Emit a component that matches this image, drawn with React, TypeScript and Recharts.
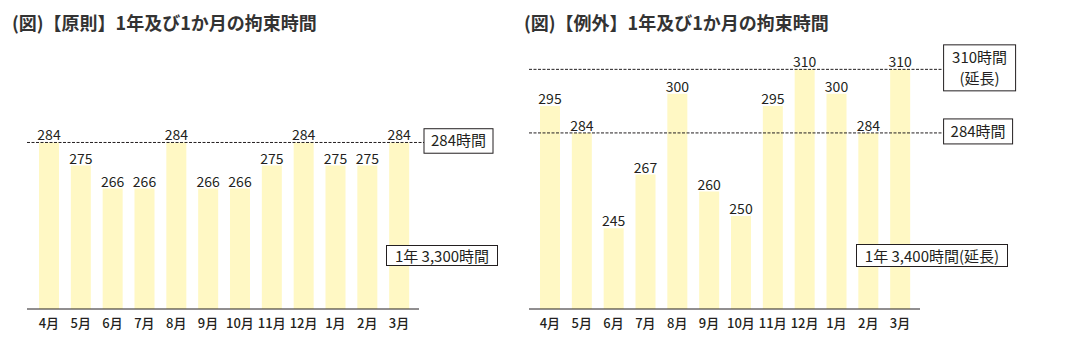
import { BarChart, Bar, XAxis, YAxis, ReferenceLine, LabelList } from "recharts";

const FONT = '"Noto Sans CJK JP", "Noto Sans", sans-serif';
const INK = "#231f20";
const BAR_FILL = "#fff8c4";

const months = ["4月", "5月", "6月", "7月", "8月", "9月", "10月", "11月", "12月", "1月", "2月", "3月"];
const principleHours = [284, 275, 266, 266, 284, 266, 266, 275, 284, 275, 275, 284];
const exceptionHours = [295, 284, 245, 267, 300, 260, 250, 295, 310, 300, 284, 310];

const principleMonthlyLimit = 284;
const exceptionMonthlyLimit = 284;
const exceptionExtendedLimit = 310;

const principleTitle = "(図)【原則】1年及び1か月の拘束時間";
const exceptionTitle = "(図)【例外】1年及び1か月の拘束時間";
const principleYearNote = "1年 3,300時間";
const exceptionYearNote = "1年 3,400時間(延長)";

const principleData = months.map((m, i) => ({ month: m, hours: principleHours[i] }));
const exceptionData = months.map((m, i) => ({ month: m, hours: exceptionHours[i] }));

const MonthTick = (props: any) => {
  const { x, y, payload } = props;
  return (
    <text x={x} y={y + 19} textAnchor="middle" fontSize={13} fontWeight={500} fill={INK} fontFamily={FONT}>
      {payload.value}
    </text>
  );
};

const ValueLabel = (props: any) => {
  const { x, y, width, value } = props;
  return (
    <text x={x + width / 2} y={y - 2} textAnchor="middle" fontSize={14} fill={INK} fontFamily={FONT}>
      {value}
    </text>
  );
};

// dashed limit line that runs on past the plot into a boxed caption
const limitShape = (gap: number, boxW: number, boxH: number, lines: string[]) => (props: any) => {
  const { x1, y1, x2 } = props;
  const bx = x2 + gap;
  const top = y1 - boxH / 2 - 1.5;
  return (
    <g>
      <line x1={x1} y1={y1} x2={bx} y2={y1} stroke={INK} strokeWidth={1} strokeDasharray="3 1.5" />
      <rect x={bx} y={top} width={boxW} height={boxH} fill="#fff" stroke={INK} strokeWidth={1} />
      {lines.map((t, i) => (
        <text
          key={t}
          x={bx + boxW / 2}
          y={top + boxH / 2 + 5.5 + (i - (lines.length - 1) / 2) * 21}
          textAnchor="middle"
          fontSize={15}
          fill={INK}
          fontFamily={FONT}
        >
          {t}
        </text>
      ))}
    </g>
  );
};

const titleStyle = {
  position: "absolute" as const,
  top: 12,
  fontFamily: FONT,
  fontWeight: 700,
  fontSize: 18,
  lineHeight: "20px",
  color: "#333",
  whiteSpace: "nowrap" as const,
};

const noteStyle = {
  position: "absolute" as const,
  boxSizing: "border-box" as const,
  border: `1px solid ${INK}`,
  background: "#fff",
  fontFamily: FONT,
  fontSize: 15,
  color: INK,
  textAlign: "center" as const,
  whiteSpace: "nowrap" as const,
};

export default function App() {
  return (
    <div style={{ position: "absolute", left: 0, top: 0, width: 1068, height: 355, background: "#fff", overflow: "hidden" }}>
      <div style={{ ...titleStyle, left: 12 }}>{principleTitle}</div>
      <div style={{ ...titleStyle, left: 524 }}>{exceptionTitle}</div>

      <div style={{ position: "absolute", left: 0, top: 0 }}>
        <BarChart width={530} height={355} data={principleData} margin={{ top: 40, right: 111, left: 27, bottom: 0 }}>
          <XAxis
            dataKey="month"
            height={46}
            padding={{ left: 6, right: 4 }}
            axisLine={{ stroke: INK, strokeWidth: 1 }}
            tickLine={false}
            tickSize={0}
            tickMargin={0}
            interval={0}
            tick={<MonthTick />}
          />
          <YAxis hide domain={[219, 324]} />
          <Bar dataKey="hours" fill={BAR_FILL} barSize={20} isAnimationActive={false}>
            <LabelList dataKey="hours" content={<ValueLabel />} />
          </Bar>
          <ReferenceLine
            y={principleMonthlyLimit}
            shape={limitShape(5, 69, 24.5, [`${principleMonthlyLimit}時間`])}
          />
        </BarChart>
      </div>

      <div style={{ position: "absolute", left: 520, top: 0 }}>
        <BarChart width={548} height={355} data={exceptionData} margin={{ top: 40, right: 148, left: 9, bottom: 0 }}>
          <XAxis
            dataKey="month"
            height={46}
            padding={{ left: 5, right: 4 }}
            axisLine={{ stroke: INK, strokeWidth: 1 }}
            tickLine={false}
            tickSize={0}
            tickMargin={0}
            interval={0}
            tick={<MonthTick />}
          />
          <YAxis hide domain={[212, 322]} />
          <Bar dataKey="hours" fill={BAR_FILL} barSize={20} isAnimationActive={false}>
            <LabelList dataKey="hours" content={<ValueLabel />} />
          </Bar>
          <ReferenceLine
            y={exceptionMonthlyLimit}
            shape={limitShape(23.6, 69, 25, [`${exceptionMonthlyLimit}時間`])}
          />
          <ReferenceLine
            y={exceptionExtendedLimit}
            shape={limitShape(23.6, 72, 46, [`${exceptionExtendedLimit}時間`, "(延長)"])}
          />
        </BarChart>
      </div>

      <div style={{ ...noteStyle, left: 386, top: 245, width: 112, height: 21, lineHeight: "19px" }}>
        {principleYearNote}
      </div>
      <div style={{ ...noteStyle, left: 856, top: 244, width: 152, height: 23, lineHeight: "21px" }}>
        {exceptionYearNote}
      </div>
    </div>
  );
}
